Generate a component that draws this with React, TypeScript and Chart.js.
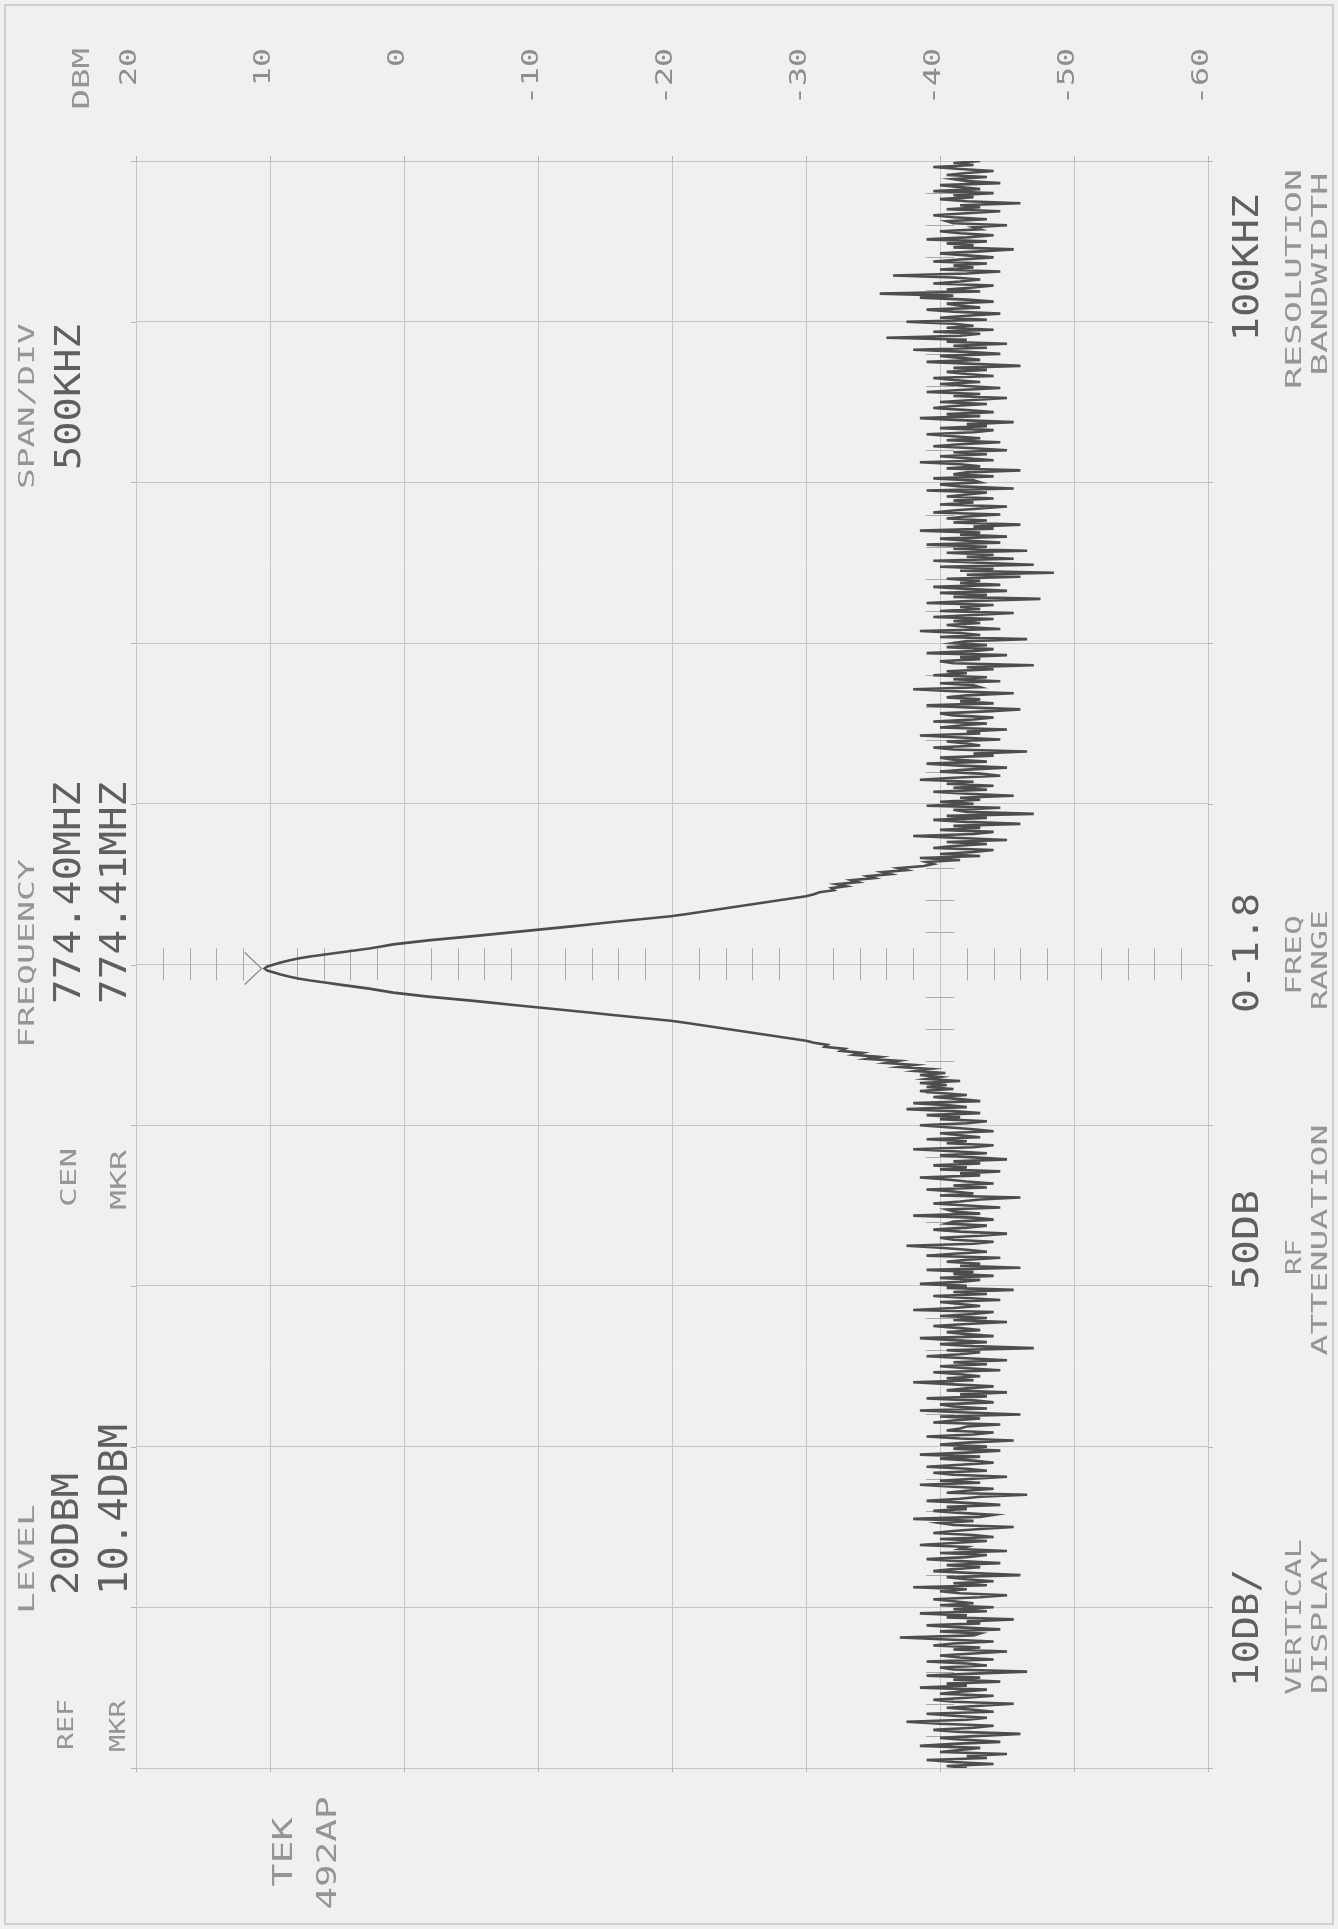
import React, { useEffect, useRef } from "react";
import { Chart, registerables } from "chart.js";

Chart.register(...registerables);

// ---------------- data ----------------
const CENTER_MHZ = 774.4;
const FREQ_MIN = 771.9; // bottom edge of display (center - 5 div * 0.5 MHz)
const FREQ_MAX = 776.9; // top edge
const FREQ_DIV = 0.5; // SPAN/DIV 500 kHz
const FREQ_STEP = 0.00625; // sweep bin spacing
const DBM_MIN = -60;
const DBM_MAX = 20;
const DBM_DIV = 10;
const DBM_TICK_LABELS = ["20", "10", "0", "-10", "-20", "-30", "-40", "-50", "-60"];
const MARKER_MHZ = 774.3875;
const MARKER_DBM = 10.4;

// sweep below the carrier (771.9 MHz upward)
const NOISE_LOW = [
  -42, -40.5, -44, -41, -39, -43.5, -42, -45, -40, -41.5,
  -43, -38.5, -41, -44.5, -42, -40, -43, -46, -41.5, -39.5,
  -42.5, -44, -40, -37.5, -42, -43.5, -41, -39, -44, -42.5,
  -40.5, -43, -45.5, -41, -39.5, -42, -44, -40, -41.5, -43.5,
  -38.5, -42, -40.5, -44.5, -41, -43, -39, -42.5, -46.5, -41,
  -40, -43.5, -42, -39, -44, -41.5, -40, -42.5, -45, -41,
  -43, -39.5, -41, -44, -40.5, -37, -42.5, -43, -40, -44.5,
  -41.5, -39, -43, -42, -45.5, -40.5, -42, -38.5, -43.5, -41,
  -44, -40, -42.5, -41, -39.5, -43, -45, -41.5, -40, -42,
  -38, -43.5, -41, -44, -42, -40.5, -46, -42.5, -39.5, -41,
  -43, -40.5, -44.5, -41.5, -39, -42, -43.5, -40, -45, -41.5,
  -42, -38.5, -41, -43.5, -40, -44, -42.5, -39.5, -41, -43,
  -45.5, -41, -40, -42.5, -38, -43, -44, -41.5, -39.5, -42,
  -40.5, -44.5, -42, -39, -41.5, -43, -46.5, -40.5, -42, -44,
  -41, -38.5, -43, -40, -42.5, -45, -41, -39.5, -43.5, -42,
  -39, -41.5, -44, -42.5, -40, -43, -38.5, -42, -44.5, -41,
  -43.5, -40, -42, -45.5, -41.5, -39, -42.5, -44, -40.5, -41.5,
  -42, -44.5, -39.5, -41, -43, -40, -46, -42, -38.5, -43.5,
  -41, -40, -44, -42.5, -39, -43.5, -41.5, -45, -40.5, -42,
  -44, -41, -38, -42.5, -40.5, -43, -41.5, -39.5, -44.5, -42,
  -40, -43.5, -41, -45, -42, -39, -41.5, -43, -40.5, -47,
  -42.5, -40, -43.5, -41, -38.5, -44, -42, -40.5, -43, -41.5,
  -39.5, -42, -45, -41, -43.5, -40, -42.5, -44, -38, -41,
  -43, -41.5, -40, -44.5, -42, -39.5, -43.5, -41, -45.5, -40.5,
  -42, -38.5, -41.5, -43, -40, -44, -41, -42.5, -39, -46,
  -41.5, -43, -40.5, -42, -44.5, -39, -41, -43.5, -42, -40,
  -37.5, -42.5, -44, -41, -40, -43, -45, -41.5, -39.5, -42,
  -43.5, -40.5, -41, -44, -42.5, -38, -43, -41, -40.5, -44.5,
  -42, -39.5, -41.5, -43, -46, -40, -42.5, -41, -39, -43.5,
  -41, -44, -42, -40.5, -38.5, -43, -41.5, -44.5, -40, -42,
  -39.5, -43, -41, -45, -42.5, -40, -43.5, -41, -38, -42.5,
  -44, -40.5, -42, -39, -43, -41.5, -40, -44, -42.5, -40.5,
  -38.5, -42, -43.5, -40, -41.5, -39, -43, -41, -37.5, -42,
  -40.5, -38, -43, -41.5, -39.5, -42, -40, -38.5, -41, -39,
  -40.5, -38.5, -41.5, -39, -40, -38.5,
];

// carrier response (774.0625 .. 774.7125 MHz)
const PEAK = [
  -40.4, -38.2, -39.3, -37.0, -38.1, -36.0, -36.9, -34.6, -35.5, -33.6,
  -34.2, -32.6, -32.9, -31.4, -31.6, -30.6, -30.0, -29.0, -28.0, -27.0,
  -26.0, -25.0, -24.0, -23.0, -22.0, -21.0, -19.9, -18.4, -16.9, -15.4,
  -14.0, -12.5, -11.0, -9.5, -8.0, -6.5, -5.0, -3.4, -1.8, -0.5,
  0.8, 1.7, 2.6, 3.7, 4.8, 5.9, 7.0, 7.9, 8.6, 9.2,
  9.7, 10.2,
  10.4,
  10.2, 9.7, 9.2, 8.6, 7.9, 7.0, 5.9, 4.8, 3.7, 2.6,
  1.7, 0.8, -0.5, -1.8, -3.4, -5.0, -6.5, -8.0, -9.5, -11.0,
  -12.5, -14.0, -15.4, -16.9, -18.4, -19.9, -21.0, -22.0, -23.0, -24.0,
  -25.0, -26.0, -27.0, -28.0, -29.0, -30.0, -30.6, -31.0, -32.1, -31.9,
  -33.0, -32.3, -33.9, -33.4, -35.1, -34.6, -36.3, -35.7, -37.5, -36.9,
  -38.8, -39.5,
];

// sweep above the carrier (up to 776.9 MHz)
const NOISE_HIGH = [
  -39, -41.5, -38.5, -43, -40, -42.5, -44, -39.5, -41, -43.5,
  -40.5, -45, -41.5, -38, -42.5, -44, -40, -43, -41, -46,
  -42, -39.5, -43.5, -40.5, -47, -42, -41, -44.5, -39, -42.5,
  -40, -43, -41.5, -45.5, -42, -39.5, -43.5, -41, -44, -40.5,
  -42.5, -38.5, -41, -44.5, -43, -40, -42, -45, -41.5, -39,
  -43.5, -41, -40, -44, -42.5, -46.5, -41, -39.5, -43, -42,
  -40.5, -44.5, -41.5, -38.5, -43, -42, -45, -40, -41.5, -43.5,
  -39.5, -42.5, -44, -41, -40, -43.5, -46, -42, -39, -44,
  -41.5, -43, -40.5, -42, -45.5, -41, -38, -43, -42.5, -40,
  -44.5, -41, -43.5, -39.5, -42, -40.5, -44, -42, -47, -41,
  -40, -43, -41.5, -45, -39, -42.5, -44, -40.5, -43.5, -41,
  -42, -46.5, -40, -43, -41.5, -38.5, -44.5, -42, -40.5, -43,
  -41, -44, -39.5, -42.5, -45.5, -40, -43, -41.5, -44, -39,
  -42.5, -47.5, -41, -43.5, -40, -45, -42, -39.5, -44.5, -41.5,
  -43, -40.5, -46, -42, -48.5, -41.5, -44, -40, -47, -43,
  -39.5, -45.5, -42, -44, -40.5, -46.5, -41, -43.5, -39, -44.5,
  -42, -40, -45, -41.5, -43, -38.5, -44, -42.5, -46, -41,
  -43.5, -40.5, -42, -44.5, -39.5, -41, -43, -45, -40, -42.5,
  -41, -44, -40.5, -42, -43.5, -39, -45.5, -41.5, -40, -43,
  -42.5, -39.5, -44, -41, -42, -46, -40.5, -43, -41.5, -38.5,
  -44, -42, -40, -43.5, -41, -45, -42.5, -39.5, -41.5, -44.5,
  -40.5, -43, -41, -39, -42.5, -44, -40, -43.5, -42, -45.5,
  -41.5, -38.5, -43, -40.5, -44, -42, -39.5, -41, -43.5, -40,
  -42.5, -45, -41, -43, -39, -41.5, -44.5, -42, -40, -43,
  -41, -39.5, -44, -42, -40.5, -43.5, -41, -46, -42.5, -39,
  -43, -41.5, -40, -44.5, -42, -38, -43.5, -41, -45, -40.5,
  -42, -36, -41.5, -43, -39.5, -44, -40.5, -42.5, -41, -37.5,
  -43.5, -40, -42, -44.5, -41, -39, -43, -41.5, -40.5, -44,
  -42, -38.5, -41, -35.5, -43, -40.5, -42.5, -44, -39.5, -41.5,
  -43, -41, -36.5, -42, -44.5, -40, -42.5, -41, -43.5, -39.5,
  -41.5, -44, -42, -40, -43, -45.5, -41, -42.5, -40.5, -43.5,
  -39, -42, -44, -41.5, -40, -43, -42.5, -45, -41, -40.5,
  -43.5, -41, -39.5, -42, -44.5, -40.5, -43, -41.5, -46, -42,
  -40, -42.5, -41, -44, -39.5, -43, -41.5, -40, -44.5, -42,
  -41, -43.5, -40.5, -42, -44, -41.5, -39.5, -42.5, -41, -43,
];

const TRACE_DBM = [...NOISE_LOW, ...PEAK, ...NOISE_HIGH];

// readout texts
const READOUT_LEFT = [
  { text: "SPAN/DIV", big: false, x0: 18, x1: 34, y: 489, align: "start", adv: 20.7 },
  { text: "500KHZ", big: true, x0: 54, x1: 80, y: 470, align: "start", adv: 24.3 },
  { text: "FREQUENCY", big: false, x0: 18, x1: 34, y: 1048, align: "start", adv: 21 },
  { text: "774.40MHZ", big: true, x0: 53, x1: 80, y: 1004, align: "start", adv: 24.7 },
  { text: "774.41MHZ", big: true, x0: 99, x1: 126, y: 1004, align: "start", adv: 24.7 },
  { text: "CEN", big: false, x0: 60, x1: 76, y: 1207, align: "start", adv: 19.7 },
  { text: "MKR", big: false, x0: 110, x1: 126, y: 1210, align: "start", adv: 20 },
  { text: "LEVEL", big: false, x0: 18, x1: 34, y: 1614, align: "start", adv: 22 },
  { text: "20DBM", big: true, x0: 51, x1: 78, y: 1595, align: "start", adv: 24.4 },
  { text: "10.4DBM", big: true, x0: 99, x1: 127, y: 1595, align: "start", adv: 24.4 },
  { text: "REF", big: false, x0: 57, x1: 73, y: 1750, align: "start", adv: 17 },
  { text: "MKR", big: false, x0: 109, x1: 125, y: 1752, align: "start", adv: 17.3 },
];
const READOUT_RIGHT = [
  { text: "100KHZ", big: true, x0: 1232, x1: 1258, y: 268, align: "center", adv: 24.5 },
  { text: "RESOLUTION", big: false, x0: 1285, x1: 1301, y: 279, align: "center", adv: 22 },
  { text: "BANDWIDTH", big: false, x0: 1311, x1: 1327, y: 274, align: "center", adv: 22.6 },
  { text: "0-1.8", big: true, x0: 1232, x1: 1258, y: 953, align: "center", adv: 24 },
  { text: "FREQ", big: false, x0: 1285, x1: 1301, y: 955, align: "center", adv: 20 },
  { text: "RANGE", big: false, x0: 1311, x1: 1327, y: 960, align: "center", adv: 20 },
  { text: "50DB", big: true, x0: 1232, x1: 1258, y: 1240, align: "center", adv: 25 },
  { text: "RF", big: false, x0: 1285, x1: 1301, y: 1257, align: "center", adv: 18 },
  { text: "ATTENUATION", big: false, x0: 1311, x1: 1327, y: 1240, align: "center", adv: 21 },
  { text: "10DB/", big: true, x0: 1232, x1: 1258, y: 1628, align: "center", adv: 23.6 },
  { text: "VERTICAL", big: false, x0: 1285, x1: 1301, y: 1617, align: "center", adv: 19.5 },
  { text: "DISPLAY", big: false, x0: 1311, x1: 1327, y: 1622, align: "center", adv: 20.6 },
  { text: "TEK", big: false, x0: 272, x1: 292, y: 1852, align: "center", adv: 23 },
  { text: "492AP", big: false, x0: 316, x1: 336, y: 1853, align: "center", adv: 22.6 },
  { text: "DBM", big: false, x0: 72, x1: 89, y: 48, align: "end", adv: 20.5 },
];

// ---------------- drawing helpers ----------------
const MONO = '"DejaVu Sans Mono", "Liberation Mono", monospace';
const COL_BIG = "#5f5f5f";
const COL_SMALL = "#959595";
const COL_GRID = "#c6c6c6";
const COL_TRACE = "#4d4d4d";

function rotText(
  ctx: CanvasRenderingContext2D,
  text: string,
  x0: number,
  x1: number,
  y: number,
  align: string,
  adv: number,
  color: string,
  weight = "normal"
) {
  const cap = x1 - x0;
  const size = cap / 0.729;
  ctx.save();
  ctx.font = `${weight} ${size}px ${MONO}`;
  const w = ctx.measureText(text).width;
  const len = adv * text.length;
  const sx = len / w;
  let start = y;
  if (align === "end") start = y + len;
  if (align === "center") start = y + len / 2;
  ctx.translate(x1, start);
  ctx.rotate(-Math.PI / 2);
  ctx.scale(sx, 1);
  ctx.fillStyle = color;
  ctx.textAlign = "left";
  ctx.textBaseline = "alphabetic";
  ctx.fillText(text, 0, 0);
  ctx.restore();
}

const decorPlugin = {
  id: "tekDecor",
  beforeDraw(chart: any) {
    const ctx = chart.ctx as CanvasRenderingContext2D;
    ctx.save();
    ctx.fillStyle = "#f0f0f0";
    ctx.fillRect(0, 0, chart.width, chart.height);
    // page edge
    ctx.strokeStyle = "#c4c4c4";
    ctx.lineWidth = 1.5;
    ctx.strokeRect(5, 5, chart.width - 10, chart.height - 10);
    ctx.restore();
  },
  beforeDatasetsDraw(chart: any) {
    const ctx = chart.ctx as CanvasRenderingContext2D;
    const xs = chart.scales.x;
    const ys = chart.scales.y;
    const a = chart.chartArea;
    ctx.save();
    ctx.strokeStyle = "#a9a9a9";
    ctx.lineWidth = 1;
    // minor ticks along centre frequency line, every 2 dB
    const yc = ys.getPixelForValue(CENTER_MHZ);
    for (let d = DBM_MAX; d >= DBM_MIN; d -= 2) {
      if (d % DBM_DIV === 0) continue;
      const px = Math.round(xs.getPixelForValue(d)) + 0.5;
      ctx.beginPath();
      ctx.moveTo(px, yc - 16);
      ctx.lineTo(px, yc + 16);
      ctx.stroke();
    }
    // minor ticks along -40 dBm line, every 0.1 MHz
    const xc = xs.getPixelForValue(-40);
    for (let k = 0; k <= 50; k++) {
      if (k % 5 === 0) continue;
      const f = FREQ_MIN + (k * FREQ_DIV) / 5;
      const py = Math.round(ys.getPixelForValue(f)) + 0.5;
      ctx.beginPath();
      ctx.moveTo(xc - 14, py);
      ctx.lineTo(xc + 14, py);
      ctx.stroke();
    }
    // little outer ticks on the frame
    ctx.strokeStyle = "#b5b5b5";
    xs.ticks.forEach((t: any) => {
      const px = Math.round(xs.getPixelForValue(t.value)) + 0.5;
      ctx.beginPath();
      ctx.moveTo(px, a.top - 5);
      ctx.lineTo(px, a.top);
      ctx.moveTo(px, a.bottom);
      ctx.lineTo(px, a.bottom + 4);
      ctx.stroke();
    });
    ys.ticks.forEach((t: any) => {
      const py = Math.round(ys.getPixelForValue(t.value)) + 0.5;
      ctx.beginPath();
      ctx.moveTo(a.left - 5, py);
      ctx.lineTo(a.left, py);
      ctx.moveTo(a.right, py);
      ctx.lineTo(a.right + 5, py);
      ctx.stroke();
    });
    // marker triangle pointing at the peak
    const mx = xs.getPixelForValue(MARKER_DBM);
    const my = ys.getPixelForValue(MARKER_MHZ);
    ctx.strokeStyle = "#8a8a8a";
    ctx.lineWidth = 1.2;
    ctx.beginPath();
    ctx.moveTo(mx - 20, my - 16);
    ctx.lineTo(mx - 3, my);
    ctx.lineTo(mx - 20, my + 16);
    ctx.stroke();
    ctx.restore();
  },
  afterDraw(chart: any) {
    const ctx = chart.ctx as CanvasRenderingContext2D;
    const xs = chart.scales.x;
    // dBm scale labels above the graticule
    xs.ticks.forEach((t: any, i: number) => {
      const px = xs.getPixelForValue(t.value);
      const label = DBM_TICK_LABELS[i] ?? String(t.value);
      rotText(ctx, label, px - 17, px, 48, "end", 19, "#8d8d8d");
    });
    [...READOUT_LEFT, ...READOUT_RIGHT].forEach((r) => {
      rotText(
        ctx,
        r.text,
        r.x0,
        r.x1,
        r.y,
        r.align,
        r.adv,
        r.big ? COL_BIG : COL_SMALL,
        "normal"
      );
    });
  },
};

export default function App() {
  const ref = useRef<HTMLCanvasElement | null>(null);
  useEffect(() => {
    if (!ref.current) return;
    const points = TRACE_DBM.map((v, i) => ({ x: v, y: FREQ_MIN + i * FREQ_STEP }));
    const chart = new Chart(ref.current, {
      type: "line",
      data: {
        datasets: [
          {
            label: "Spectrum",
            data: points,
            borderColor: COL_TRACE,
            borderWidth: 2.6,
            pointRadius: 0,
            fill: false,
            tension: 0,
          },
        ],
      },
      options: {
        responsive: false,
        animation: false,
        devicePixelRatio: 1,
        events: [],
        layout: { padding: { left: 136, right: 130, top: 161, bottom: 161 } },
        plugins: {
          legend: { display: false },
          tooltip: { enabled: false },
          title: { display: false },
        },
        scales: {
          x: {
            type: "linear",
            position: "top",
            min: DBM_MIN,
            max: DBM_MAX,
            reverse: true,
            ticks: { display: false, stepSize: DBM_DIV },
            grid: { color: COL_GRID, lineWidth: 1, drawTicks: false },
            border: { display: true, color: COL_GRID },
            afterFit: (s: any) => {
              s.height = 0;
            },
          },
          y: {
            type: "linear",
            min: FREQ_MIN,
            max: FREQ_MAX,
            ticks: { display: false, stepSize: FREQ_DIV },
            grid: { color: COL_GRID, lineWidth: 1, drawTicks: false },
            border: { display: true, color: COL_GRID },
            afterFit: (s: any) => {
              s.width = 0;
            },
          },
        },
      } as any,
      plugins: [decorPlugin as any],
    });
    return () => chart.destroy();
  }, []);
  return (
    <div style={{ position: "absolute", left: 0, top: 0, width: 1338, height: 1929 }}>
      <canvas ref={ref} width={1338} height={1929} style={{ display: "block" }} />
    </div>
  );
}
